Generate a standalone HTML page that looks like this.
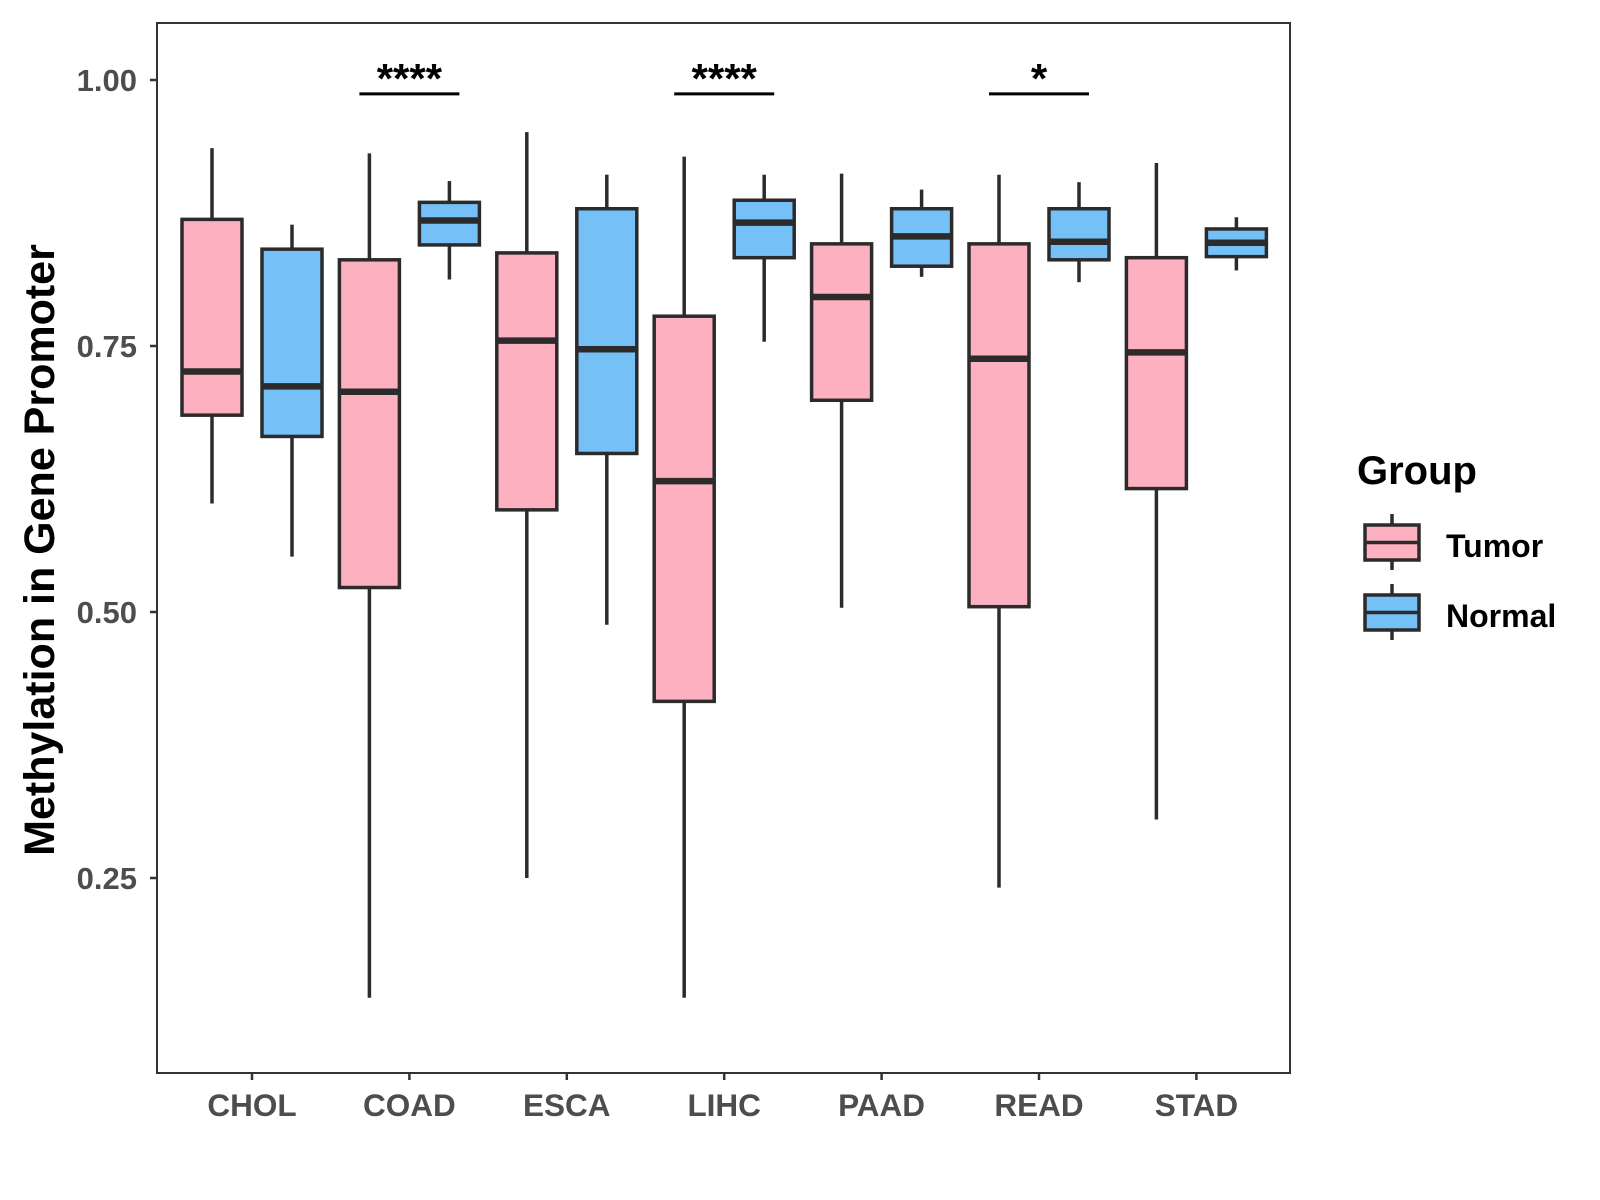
<!DOCTYPE html>
<html><head><meta charset="utf-8"><style>
body{margin:0;background:#fff}
svg{display:block;font-family:"Liberation Sans",Arial,sans-serif}
</style></head><body>
<svg id="chart" width="1600" height="1200">
<rect x="157" y="23" width="1133" height="1050" fill="#fff" stroke="#333" stroke-width="2"/>
<g id="axes"></g><g id="boxes"></g><g id="sig"></g>
<text transform="translate(54,550) rotate(-90)" text-anchor="middle" font-size="43" font-weight="bold" fill="#000">Methylation in Gene Promoter</text>
<g transform="translate(-7,0)">
<text x="1364" y="484" font-size="40" font-weight="bold">Group</text>
<g>
<line x1="1399" y1="514" x2="1399" y2="570" stroke="#2b2b2b" stroke-width="3.5"/>
<rect x="1372" y="525" width="54" height="35" fill="#FDB0C0" stroke="#2b2b2b" stroke-width="3.5"/>
<line x1="1372" y1="542.5" x2="1426" y2="542.5" stroke="#2b2b2b" stroke-width="3.5"/>
<text x="1453" y="557" font-size="32" font-weight="bold">Tumor</text></g>
<g>
<line x1="1399" y1="584" x2="1399" y2="640" stroke="#2b2b2b" stroke-width="3.5"/>
<rect x="1372" y="595" width="54" height="35" fill="#75C1F7" stroke="#2b2b2b" stroke-width="3.5"/>
<line x1="1372" y1="612.5" x2="1426" y2="612.5" stroke="#2b2b2b" stroke-width="3.5"/>
<text x="1453" y="627" font-size="32" font-weight="bold">Normal</text></g>
</g>
</svg>
<script>
const categories=["CHOL","COAD","ESCA","LIHC","PAAD","READ","STAD"];
// [low, q1, median, q3, high]
const tumorStats=[[0.602,0.685,0.726,0.869,0.936],[0.1375,0.523,0.707,0.831,0.931],[0.25,0.596,0.755,0.8375,0.951],[0.1375,0.416,0.623,0.778,0.928],[0.504,0.699,0.796,0.846,0.912],[0.241,0.505,0.738,0.846,0.911],[0.305,0.616,0.744,0.833,0.922]];
const normalStats=[[0.552,0.665,0.712,0.841,0.864],[0.8125,0.845,0.868,0.885,0.905],[0.488,0.649,0.747,0.879,0.911],[0.754,0.833,0.866,0.887,0.911],[0.815,0.825,0.853,0.879,0.897],[0.81,0.831,0.848,0.879,0.904],[0.821,0.834,0.847,0.860,0.871]];
const yTicks=[0.25,0.5,0.75,1.0];
const yTickLabels=["0.25","0.50","0.75","1.00"];
const sigCats=["COAD","LIHC","READ"];
const sigLabels=["****","****","*"];
const sigLevel=0.987;

const NS="http://www.w3.org/2000/svg";
const y=v=>80+(1-v)*1064;
const x=i=>252+i*157.4;
function mk(tag,attrs,parent){const e=document.createElementNS(NS,tag);for(const k in attrs)e.setAttribute(k,attrs[k]);parent.appendChild(e);return e;}
const axes=document.getElementById('axes'),boxes=document.getElementById('boxes'),sig=document.getElementById('sig');
yTicks.forEach((t,i)=>{
  const l=mk('line',{x1:150,x2:157,y1:y(t),y2:y(t),stroke:'#333','stroke-width':2.5},axes);
  
  
  const tx=mk('text',{x:137,y:y(t)+11,'text-anchor':'end','font-size':31,'font-weight':'bold',fill:'#4d4d4d'},axes);
  tx.textContent=yTickLabels[i];
  
  
});
categories.forEach((c,i)=>{
  const l=mk('line',{x1:x(i),x2:x(i),y1:1073,y2:1080,stroke:'#333','stroke-width':2.5},axes);
  
  
  const tx=mk('text',{x:x(i),y:1116,'text-anchor':'middle','font-size':31.5,'font-weight':'bold',fill:'#4d4d4d'},axes);
  tx.textContent=c;
  
  
});
function box(cx,s,fill,name){
  const g=mk('g',{},boxes);
  
  
  const w=60,st='#2b2b2b';
  mk('line',{x1:cx,x2:cx,y1:y(s[4]),y2:y(s[3]),stroke:st,'stroke-width':3.5},g);
  mk('line',{x1:cx,x2:cx,y1:y(s[1]),y2:y(s[0]),stroke:st,'stroke-width':3.5},g);
  mk('rect',{x:cx-w/2,y:y(s[3]),width:w,height:y(s[1])-y(s[3]),fill:fill,stroke:st,'stroke-width':3.5},g);
  mk('line',{x1:cx-w/2,x2:cx+w/2,y1:y(s[2]),y2:y(s[2]),stroke:st,'stroke-width':6.5},g);
}
categories.forEach((c,i)=>{
  box(x(i)-40,tumorStats[i],'#FDB0C0','box-tumor-'+c.toLowerCase());
  box(x(i)+40,normalStats[i],'#75C1F7','box-normal-'+c.toLowerCase());
});
sigCats.forEach((c,k)=>{
  const i=categories.indexOf(c);
  const l=mk('line',{x1:x(i)-50,x2:x(i)+50,y1:y(sigLevel),y2:y(sigLevel),stroke:'#000','stroke-width':3},sig);
  
  
  const tx=mk('text',{x:x(i),y:y(sigLevel)-1,'text-anchor':'middle','font-size':42,'font-weight':'bold',fill:'#000'},sig);
  tx.textContent=sigLabels[k];
  
  
});
</script>
</body></html>
